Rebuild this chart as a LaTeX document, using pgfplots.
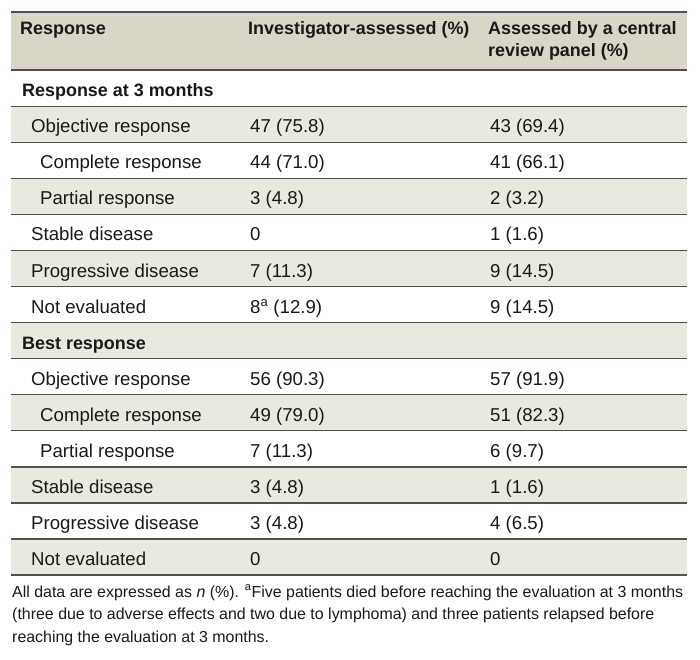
\documentclass[border=0pt]{standalone}
\usepackage{pgfplots}
\pgfplotsset{compat=1.18}
\usepackage{fontspec}
\setmainfont{Liberation Sans}
\definecolor{hdr}{RGB}{217,213,199}
\definecolor{band}{RGB}{234,233,223}
\definecolor{rulec}{RGB}{80,80,80}
\definecolor{ink}{RGB}{25,25,25}
\tikzset{
  lab/.style={anchor=base west, inner sep=0pt, text=ink, font=\fontsize{18.7}{21}\selectfont},
  blab/.style={lab, font=\fontsize{18}{21}\selectfont\bfseries},
  fn/.style={anchor=base west, inner sep=0pt, text=ink, font=\fontsize{16}{19}\selectfont},
}
\begin{document}
\begin{tikzpicture}
\begin{axis}[width=700bp,height=659bp,scale only axis,
  xmin=0,xmax=700,ymin=0,ymax=659,y dir=reverse,hide axis,clip=false]
\path (axis cs:0,0) rectangle (axis cs:700,659);
% backgrounds
\fill[hdr]  (axis cs:11,12)    rectangle (axis cs:687,70);
\fill[band] (axis cs:11,106.1) rectangle (axis cs:687,142.2);
\fill[band] (axis cs:11,178.2) rectangle (axis cs:687,214.3);
\fill[band] (axis cs:11,250.4) rectangle (axis cs:687,286.5);
\fill[band] (axis cs:11,322.6) rectangle (axis cs:687,358.6);
\fill[band] (axis cs:11,394.7) rectangle (axis cs:687,430.8);
\fill[band] (axis cs:11,466.9) rectangle (axis cs:687,503.0);
\fill[band] (axis cs:11,539.0) rectangle (axis cs:687,575.1);
% rules
\draw[rulec,line width=1.8bp] (axis cs:11,12) -- (axis cs:687,12);
\draw[rulec,line width=1.6bp] (axis cs:11,70) -- (axis cs:687,70);
\draw[rulec,line width=1.2bp] (axis cs:11,106.1) -- (axis cs:687,106.1);
\draw[rulec,line width=1.2bp] (axis cs:11,142.2) -- (axis cs:687,142.2);
\draw[rulec,line width=1.2bp] (axis cs:11,178.2) -- (axis cs:687,178.2);
\draw[rulec,line width=1.2bp] (axis cs:11,214.3) -- (axis cs:687,214.3);
\draw[rulec,line width=1.2bp] (axis cs:11,250.4) -- (axis cs:687,250.4);
\draw[rulec,line width=1.2bp] (axis cs:11,286.5) -- (axis cs:687,286.5);
\draw[rulec,line width=1.2bp] (axis cs:11,322.6) -- (axis cs:687,322.6);
\draw[rulec,line width=1.2bp] (axis cs:11,358.6) -- (axis cs:687,358.6);
\draw[rulec,line width=1.2bp] (axis cs:11,394.7) -- (axis cs:687,394.7);
\draw[rulec,line width=1.2bp] (axis cs:11,430.8) -- (axis cs:687,430.8);
\draw[rulec,line width=1.2bp] (axis cs:11,466.9) -- (axis cs:687,466.9);
\draw[rulec,line width=1.2bp] (axis cs:11,503.0) -- (axis cs:687,503.0);
\draw[rulec,line width=1.2bp] (axis cs:11,539.0) -- (axis cs:687,539.0);
\draw[rulec,line width=1.6bp] (axis cs:11,575.1) -- (axis cs:687,575.1);
% header
\node[blab] at (axis cs:20,35) {Response};
\node[blab] at (axis cs:248,35) {Investigator-assessed (\%)};
\node[blab] at (axis cs:488,35) {Assessed by a central};
\node[blab] at (axis cs:488,57) {review panel (\%)};
% body
\node[blab] at (axis cs:22,96.6) {Response at 3 months};
\node[lab] at (axis cs:31,132.6) {Objective response};
\node[lab] at (axis cs:250,132.6) {47 (75.8)};
\node[lab] at (axis cs:490,132.6) {43 (69.4)};
\node[lab] at (axis cs:40,168.7) {Complete response};
\node[lab] at (axis cs:250,168.7) {44 (71.0)};
\node[lab] at (axis cs:490,168.7) {41 (66.1)};
\node[lab] at (axis cs:40,204.8) {Partial response};
\node[lab] at (axis cs:250,204.8) {3 (4.8)};
\node[lab] at (axis cs:490,204.8) {2 (3.2)};
\node[lab] at (axis cs:31,240.9) {Stable disease};
\node[lab] at (axis cs:250,240.9) {0};
\node[lab] at (axis cs:490,240.9) {1 (1.6)};
\node[lab] at (axis cs:31,277.0) {Progressive disease};
\node[lab] at (axis cs:250,277.0) {7 (11.3)};
\node[lab] at (axis cs:490,277.0) {9 (14.5)};
\node[lab] at (axis cs:31,313.1) {Not evaluated};
\node[lab] at (axis cs:250,313.1) {8\textsuperscript{a} (12.9)};
\node[lab] at (axis cs:490,313.1) {9 (14.5)};
\node[blab] at (axis cs:22,349.1) {Best response};
\node[lab] at (axis cs:31,385.2) {Objective response};
\node[lab] at (axis cs:250,385.2) {56 (90.3)};
\node[lab] at (axis cs:490,385.2) {57 (91.9)};
\node[lab] at (axis cs:40,421.3) {Complete response};
\node[lab] at (axis cs:250,421.3) {49 (79.0)};
\node[lab] at (axis cs:490,421.3) {51 (82.3)};
\node[lab] at (axis cs:40,457.4) {Partial response};
\node[lab] at (axis cs:250,457.4) {7 (11.3)};
\node[lab] at (axis cs:490,457.4) {6 (9.7)};
\node[lab] at (axis cs:31,493.5) {Stable disease};
\node[lab] at (axis cs:250,493.5) {3 (4.8)};
\node[lab] at (axis cs:490,493.5) {1 (1.6)};
\node[lab] at (axis cs:31,529.6) {Progressive disease};
\node[lab] at (axis cs:250,529.6) {3 (4.8)};
\node[lab] at (axis cs:490,529.6) {4 (6.5)};
\node[lab] at (axis cs:31,565.6) {Not evaluated};
\node[lab] at (axis cs:250,565.6) {0};
\node[lab] at (axis cs:490,565.6) {0};
% footnote
\node[fn] at (axis cs:12,597) {All data are expressed as \textit{n} (\%). \textsuperscript{a}Five patients died before reaching the evaluation at 3 months};
\node[fn] at (axis cs:12,619.5) {(three due to adverse effects and two due to lymphoma) and three patients relapsed before};
\node[fn] at (axis cs:12,642) {reaching the evaluation at 3 months.};
\end{axis}
\end{tikzpicture}
\end{document}
